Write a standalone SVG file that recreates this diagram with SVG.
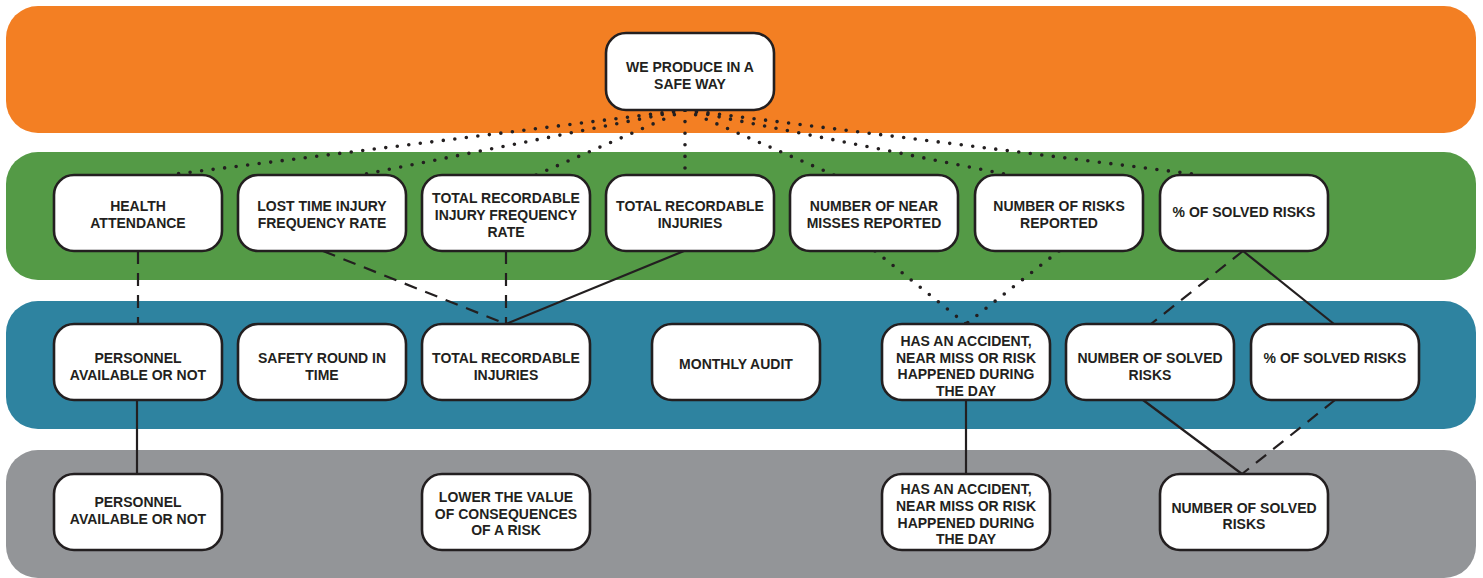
<svg xmlns="http://www.w3.org/2000/svg" width="1483" height="578" viewBox="0 0 1483 578">
<style>
.band{stroke:none}
.node rect{fill:#fff;stroke:#231F20;stroke-width:2.6}
.node text{font-family:"Liberation Sans",Arial,sans-serif;font-weight:bold;font-size:14px;fill:#231F20;text-anchor:middle}
.c{fill:none;stroke:#231F20;stroke-width:2.2}
.dot{stroke-width:3.6;stroke-dasharray:0 11.6;stroke-linecap:round}
.dash{stroke-dasharray:13 9}
</style>
<rect width="1483" height="578" fill="#fff"/>
<g id="bands">
<rect class="band" x="6" y="6" width="1470" height="127" rx="32" fill="#F37F23"/>
<rect class="band" x="6" y="152" width="1470" height="128" rx="32" fill="#549A46"/>
<rect class="band" x="6" y="301" width="1470" height="128" rx="32" fill="#2E83A0"/>
<rect class="band" x="6" y="450" width="1470" height="128" rx="32" fill="#939598"/>
</g>
<g id="connectors">
<line class="c dot" x1="685" y1="110" x2="168" y2="175"/>
<line class="c dot" x1="685" y1="110" x2="361" y2="175"/>
<line class="c dot" x1="685" y1="110" x2="536" y2="175"/>
<line class="c dot" x1="685" y1="110" x2="685" y2="175"/>
<line class="c dot" x1="685" y1="110" x2="834" y2="175"/>
<line class="c dot" x1="685" y1="110" x2="1009" y2="175"/>
<line class="c dot" x1="685" y1="110" x2="1201" y2="175"/>
<line class="c dash" x1="138" y1="251" x2="138" y2="324"/>
<line class="c dash" x1="323" y1="251" x2="506" y2="324"/>
<line class="c dash" x1="506" y1="251" x2="506" y2="324"/>
<line class="c" x1="684" y1="251" x2="506" y2="324"/>
<line class="c dot" x1="875" y1="251" x2="966" y2="324"/>
<line class="c dot" x1="1059" y1="251" x2="966" y2="324"/>
<line class="c dash" x1="1243" y1="251" x2="1151" y2="324"/>
<line class="c" x1="1243" y1="251" x2="1334" y2="324"/>
<line class="c" x1="137" y1="400" x2="137" y2="474"/>
<line class="c" x1="966" y1="400" x2="966" y2="474"/>
<line class="c" x1="1143" y1="400" x2="1242" y2="474"/>
<line class="c dash" x1="1335" y1="400" x2="1242" y2="474"/>
</g>
<g id="n-top" class="node"><rect x="606" y="33" width="168" height="77" rx="20"/><text x="690" y="72">WE PRODUCE IN A</text><text x="690" y="89">SAFE WAY</text></g>
<g id="n-health" class="node"><rect x="54" y="175" width="168" height="76" rx="20"/><text x="138" y="211">HEALTH</text><text x="138" y="228">ATTENDANCE</text></g>
<g id="n-ltifr" class="node"><rect x="238" y="175" width="168" height="76" rx="20"/><text x="322" y="211">LOST TIME INJURY</text><text x="322" y="228">FREQUENCY RATE</text></g>
<g id="n-trifr" class="node"><rect x="422" y="175" width="168" height="76" rx="20"/><text x="506" y="203">TOTAL RECORDABLE</text><text x="506" y="220">INJURY FREQUENCY</text><text x="506" y="237">RATE</text></g>
<g id="n-tri1" class="node"><rect x="606" y="175" width="168" height="76" rx="20"/><text x="690" y="211">TOTAL RECORDABLE</text><text x="690" y="228">INJURIES</text></g>
<g id="n-near" class="node"><rect x="790" y="175" width="168" height="76" rx="20"/><text x="874" y="211">NUMBER OF NEAR</text><text x="874" y="228">MISSES REPORTED</text></g>
<g id="n-risks" class="node"><rect x="975" y="175" width="168" height="76" rx="20"/><text x="1059" y="211">NUMBER OF RISKS</text><text x="1059" y="228">REPORTED</text></g>
<g id="n-pct1" class="node"><rect x="1160" y="175" width="168" height="76" rx="20"/><text x="1244" y="217">% OF SOLVED RISKS</text></g>
<g id="n-pers2" class="node"><rect x="54" y="324" width="168" height="76" rx="20"/><text x="138" y="363">PERSONNEL</text><text x="138" y="380">AVAILABLE OR NOT</text></g>
<g id="n-safety" class="node"><rect x="238" y="324" width="168" height="76" rx="20"/><text x="322" y="363">SAFETY ROUND IN</text><text x="322" y="380">TIME</text></g>
<g id="n-tri2" class="node"><rect x="422" y="324" width="168" height="76" rx="20"/><text x="506" y="363">TOTAL RECORDABLE</text><text x="506" y="380">INJURIES</text></g>
<g id="n-audit" class="node"><rect x="652" y="324" width="168" height="76" rx="20"/><text x="736" y="369">MONTHLY AUDIT</text></g>
<g id="n-acc2" class="node"><rect x="882" y="324" width="168" height="76" rx="20"/><text x="966" y="346">HAS AN ACCIDENT,</text><text x="966" y="363">NEAR MISS OR RISK</text><text x="966" y="379">HAPPENED DURING</text><text x="966" y="396">THE DAY</text></g>
<g id="n-solved2" class="node"><rect x="1066" y="324" width="168" height="76" rx="20"/><text x="1150" y="363">NUMBER OF SOLVED</text><text x="1150" y="380">RISKS</text></g>
<g id="n-pct2" class="node"><rect x="1251" y="324" width="168" height="76" rx="20"/><text x="1335" y="363">% OF SOLVED RISKS</text></g>
<g id="n-pers3" class="node"><rect x="54" y="474" width="168" height="76" rx="20"/><text x="138" y="507">PERSONNEL</text><text x="138" y="524">AVAILABLE OR NOT</text></g>
<g id="n-lower" class="node"><rect x="422" y="474" width="168" height="76" rx="20"/><text x="506" y="502">LOWER THE VALUE</text><text x="506" y="519">OF CONSEQUENCES</text><text x="506" y="535">OF A RISK</text></g>
<g id="n-acc3" class="node"><rect x="882" y="474" width="168" height="76" rx="20"/><text x="966" y="494">HAS AN ACCIDENT,</text><text x="966" y="511">NEAR MISS OR RISK</text><text x="966" y="528">HAPPENED DURING</text><text x="966" y="544">THE DAY</text></g>
<g id="n-solved3" class="node"><rect x="1160" y="474" width="168" height="76" rx="20"/><text x="1244" y="513">NUMBER OF SOLVED</text><text x="1244" y="529">RISKS</text></g>
</svg>
